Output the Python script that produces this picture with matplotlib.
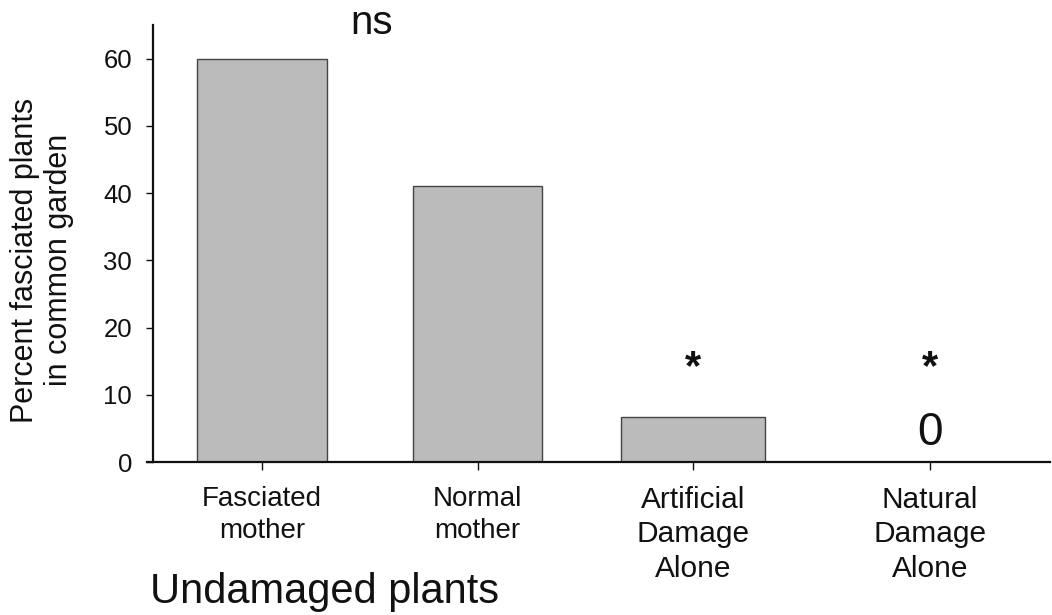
import matplotlib
matplotlib.use('Agg')
import matplotlib.pyplot as plt

plt.rcParams['font.family'] = ['Liberation Sans', 'DejaVu Sans']

# data
categories = ['Fasciated\nmother', 'Normal\nmother', 'Artificial\nDamage\nAlone', 'Natural\nDamage\nAlone']
percent = [60, 41, 6.7, 0]
signif = ['', '', '*', '*']
zero_labels = ['', '', '', '0']
yticks = [0, 10, 20, 30, 40, 50, 60]

# layout
xpos = [0, 1, 2.0, 3.1]
widths = [0.6, 0.6, 0.67, 0.6]
label_sizes = [20, 20, 21.5, 21.5]

fig = plt.figure(figsize=(10.52, 6.15), dpi=100)
ax = fig.add_axes([147 / 1052, 1 - 462 / 615, (1050 - 147) / 1052, (462 - 25) / 615])

ax.bar(xpos, percent, width=widths, color='#bbbbbb', edgecolor='#444444', linewidth=1.0)

ax.set_xlim(-0.534, 3.657)
ax.set_ylim(0, 65)

ax.spines['top'].set_visible(False)
ax.spines['right'].set_visible(False)
ax.spines['left'].set_position(('data', -0.506))
ax.spines['left'].set_linewidth(1.6)
ax.spines['bottom'].set_linewidth(1.6)
ax.spines['left'].set_color('#111111')
ax.spines['bottom'].set_color('#111111')

ax.set_yticks(yticks)
ax.tick_params(axis='y', labelsize=18.5, length=5, width=1.0, pad=10, colors='#111111')
ax.set_xticks(xpos)
ax.set_xticklabels(categories)
ax.tick_params(axis='x', length=6, width=1.0, pad=11, colors='#111111')
for lab, fs in zip(ax.get_xticklabels(), label_sizes):
    lab.set_fontsize(fs)
    lab.set_linespacing(1.3)

# significance marks
for x, s, z in zip(xpos, signif, zero_labels):
    if s:
        ax.text(x, 14.0, s, ha='center', va='center', fontsize=30, fontweight='bold', color='#111111')
    if z:
        ax.text(x, 2.5, z, ha='center', va='baseline', fontsize=33, color='#111111')

ax.text(0.51, 63.6, 'ns', ha='center', va='baseline', fontsize=29, color='#111111')

fig.text(42 / 1052, 1 - 260 / 615, 'Percent fasciated plants\nin common garden',
         rotation=90, ha='center', va='center', multialignment='center',
         fontsize=22, linespacing=1.2, color='#111111')
fig.text(324 / 1052, 1 - 603 / 615, 'Undamaged plants', ha='center', va='baseline',
         fontsize=30, color='#111111')

fig.savefig('out.png', dpi=100)
